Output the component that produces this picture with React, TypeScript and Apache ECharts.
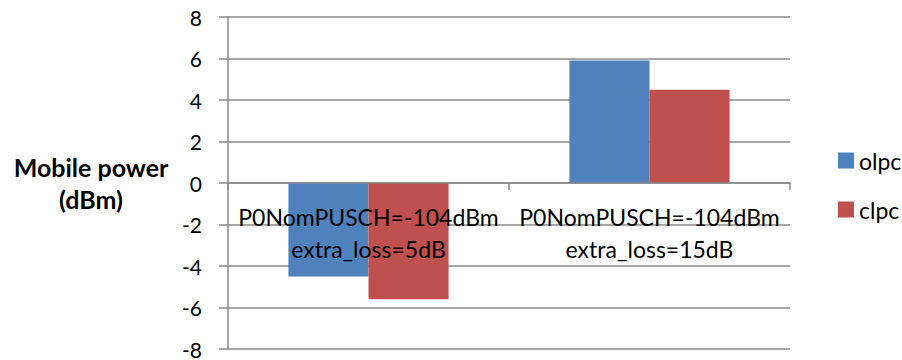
import React, { useEffect, useRef } from "react";
import * as echarts from "echarts";

const categories = [
  "P0NomPUSCH=-104dBm\nextra_loss=5dB",
  "P0NomPUSCH=-104dBm\nextra_loss=15dB",
];
const olpc = [-4.5, 5.9];
const clpc = [-5.6, 4.5];
const yMin = -8;
const yMax = 8;
const yInterval = 2;

const FONT = "Lato";
const GRAY = "#898989";

export default function App() {
  const ref = useRef<HTMLDivElement>(null);
  useEffect(() => {
    if (!ref.current) return;
    const chart = echarts.init(ref.current, undefined, { renderer: "svg" });
    const gridTop = 17;
    const gridBottom = 11;
    const plotH = 360 - gridTop - gridBottom;
    const zeroOffset = (plotH * (0 - yMin)) / (yMax - yMin);
    chart.setOption({
      animation: false,
      backgroundColor: "#ffffff",
      textStyle: { fontFamily: FONT },
      grid: {
        left: 228,
        right: 112,
        top: gridTop,
        bottom: gridBottom,
        containLabel: false,
        outerBoundsMode: "none",
      },
      legend: {
        orient: "vertical",
        left: 833,
        top: 144,
        itemWidth: 16,
        itemHeight: 16,
        itemGap: 26,
        icon: "rect",
        textStyle: { fontFamily: FONT, fontSize: 23, color: "#000" },
        data: ["olpc", "clpc"],
      },
      xAxis: {
        type: "category",
        data: categories,
        z: 5,
        offset: -zeroOffset,
        axisLine: { onZero: false, lineStyle: { color: GRAY, width: 1.5 } },
        axisTick: { show: true, length: 7, interval: 0, lineStyle: { color: GRAY, width: 1.5 } },
        axisLabel: {
          interval: 0,
          margin: 18,
          fontFamily: FONT,
          fontSize: 23,
          lineHeight: 32,
          color: "#000",
        },
        splitLine: { show: false },
      },
      yAxis: {
        type: "value",
        min: yMin,
        max: yMax,
        interval: yInterval,
        axisLine: { show: true, lineStyle: { color: GRAY, width: 1.5 } },
        axisTick: { show: true, length: 9, lineStyle: { color: GRAY, width: 1.5 } },
        axisLabel: { margin: 26, fontFamily: FONT, fontSize: 21, color: "#000" },
        splitLine: { show: true, lineStyle: { color: GRAY, width: 1.5 } },
      },
      graphic: [
        {
          type: "text",
          x: 91,
          y: 183,
          style: {
            text: "Mobile power\n(dBm)",
            fontFamily: FONT,
            fontWeight: "bold",
            fontSize: 25,
            lineHeight: 32,
            align: "center",
            verticalAlign: "middle",
            fill: "#000",
          },
        },
      ],
      series: [
        {
          name: "olpc",
          type: "bar",
          data: olpc,
          barGap: "0%",
          barCategoryGap: "43%",
          itemStyle: { color: "#4F81BD" },
        },
        {
          name: "clpc",
          type: "bar",
          data: clpc,
          barGap: "0%",
          barCategoryGap: "43%",
          itemStyle: { color: "#C0504D" },
        },
      ],
    });
    return () => chart.dispose();
  }, []);
  return <div ref={ref} style={{ width: 902, height: 360, position: "absolute", left: 0, top: 0 }} />;
}
